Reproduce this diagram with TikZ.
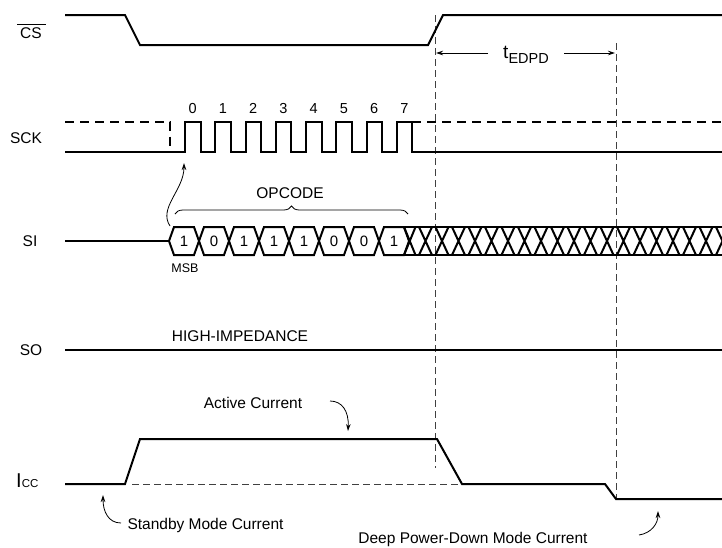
\documentclass[tikz,border=0pt]{standalone}
\usepackage{fontspec}
\setmainfont{Liberation Sans}
\usetikzlibrary{arrows.meta,decorations.pathreplacing}

\tikzset{
    sig/.style={black, line width=2pt},
    sigdash/.style={black, line width=2pt, dash pattern=on 9pt off 6pt},
    guide/.style={black!75, line width=0.9pt, dash pattern=on 7pt off 4pt},
    note/.style={-{Stealth[length=7pt,width=4.5pt]}, line width=0.8pt},
    lbl/.style={inner sep=0pt, font=\fontsize{15.5}{18}\selectfont},
    bit/.style={inner sep=0pt, anchor=base, font=\fontsize{15}{17}\selectfont},
    cnt/.style={inner sep=0pt, anchor=base, font=\fontsize{14.5}{16}\selectfont}
}

\begin{document}
\begin{tikzpicture}[x=1pt,y=-1pt]
    \useasboundingbox (0,0) rectangle (722,547);

    % signal names
    \node[lbl] (cs) at (31,33) {CS};
    \draw[line width=0.7pt] ([shift={(-3,-3)}]cs.north west) -- ([shift={(4,-3)}]cs.north east);
    \node[lbl] (sck) at (26,138) {SCK};
    \node[lbl] (si) at (30,241) {SI};
    \node[lbl] (so) at (31,350) {SO};
    \node[inner sep=0pt, anchor=base west] (icc) at (16,487)
        {\fontsize{20}{22}\selectfont I\fontsize{11.5}{13}\selectfont CC};

    % timing guides
    \draw[guide] (435,15) -- (435,468);
    \draw[guide] (616,43) -- (616,499);
    \draw[guide] (132,484) -- (462,484);

    % CS
    \draw[sig] (65,15) -- (125,15) -- (140,45) -- (428,45) -- (443,15) -- (722,15);

    % SCK
    \draw[sigdash] (65,121.5) -- (170,121.5) -- (170,152);
    \draw[sig] (65,152) -- (185,152)
        -- (185,121.5) -- (200.5,121.5) -- (200.5,152) -- (215.25,152)
        -- (215.25,121.5) -- (230.75,121.5) -- (230.75,152) -- (245.5,152)
        -- (245.5,121.5) -- (261,121.5) -- (261,152) -- (275.75,152)
        -- (275.75,121.5) -- (291.25,121.5) -- (291.25,152) -- (306,152)
        -- (306,121.5) -- (321.5,121.5) -- (321.5,152) -- (336.25,152)
        -- (336.25,121.5) -- (351.75,121.5) -- (351.75,152) -- (366.5,152)
        -- (366.5,121.5) -- (382,121.5) -- (382,152) -- (396.75,152)
        -- (396.75,121.5) -- (412.25,121.5) -- (412.25,152) -- (722,152);
    \draw[sigdash] (412.25,121.5) -- (722,121.5);
    \node[cnt] (c0) at (192.75,113) {0};
    \node[cnt] (c1) at (223,113) {1};
    \node[cnt] (c2) at (253.25,113) {2};
    \node[cnt] (c3) at (283.5,113) {3};
    \node[cnt] (c4) at (313.75,113) {4};
    \node[cnt] (c5) at (344,113) {5};
    \node[cnt] (c6) at (374.25,113) {6};
    \node[cnt] (c7) at (404.5,113) {7};

    % SI
    \draw[sig] (65,241) -- (169,241);
    \draw[sig] (169,241) -- (174,227) -- (194,227) -- (199,241) -- (194,255) -- (174,255) -- cycle;
    \draw[sig] (199,241) -- (204,227) -- (224,227) -- (229,241) -- (224,255) -- (204,255) -- cycle;
    \draw[sig] (229,241) -- (234,227) -- (254,227) -- (259,241) -- (254,255) -- (234,255) -- cycle;
    \draw[sig] (259,241) -- (264,227) -- (284,227) -- (289,241) -- (284,255) -- (264,255) -- cycle;
    \draw[sig] (289,241) -- (294,227) -- (314,227) -- (319,241) -- (314,255) -- (294,255) -- cycle;
    \draw[sig] (319,241) -- (324,227) -- (344,227) -- (349,241) -- (344,255) -- (324,255) -- cycle;
    \draw[sig] (349,241) -- (354,227) -- (374,227) -- (379,241) -- (374,255) -- (354,255) -- cycle;
    \draw[sig] (379,241) -- (384,227) -- (404,227) -- (409,241) -- (404,255) -- (384,255) -- cycle;
    \node[bit] (b0) at (184,246.5) {1};
    \node[bit] (b1) at (214,246.5) {0};
    \node[bit] (b2) at (244,246.5) {1};
    \node[bit] (b3) at (274,246.5) {1};
    \node[bit] (b4) at (304,246.5) {1};
    \node[bit] (b5) at (334,246.5) {0};
    \node[bit] (b6) at (364,246.5) {0};
    \node[bit] (b7) at (394,246.5) {1};
    \node[inner sep=0pt, font=\fontsize{12.5}{14}\selectfont] (msb) at (185,268) {MSB};

    % don't care
    \draw[sig] (404,227) -- (722,227) (404,255) -- (722,255);
    \draw[sig] (404,227) -- (415.5,255) (404,255) -- (415.5,227);
    \draw[sig] (419,227) -- (432,255) (419,255) -- (432,227);
    \draw[sig] (435.5,227) -- (448.5,255) (435.5,255) -- (448.5,227);
    \draw[sig] (452,227) -- (465,255) (452,255) -- (465,227);
    \draw[sig] (468.5,227) -- (481.5,255) (468.5,255) -- (481.5,227);
    \draw[sig] (485,227) -- (498,255) (485,255) -- (498,227);
    \draw[sig] (501.5,227) -- (514.5,255) (501.5,255) -- (514.5,227);
    \draw[sig] (518,227) -- (531,255) (518,255) -- (531,227);
    \draw[sig] (534.5,227) -- (547.5,255) (534.5,255) -- (547.5,227);
    \draw[sig] (551,227) -- (564,255) (551,255) -- (564,227);
    \draw[sig] (567.5,227) -- (580.5,255) (567.5,255) -- (580.5,227);
    \draw[sig] (584,227) -- (597,255) (584,255) -- (597,227);
    \draw[sig] (600.5,227) -- (613.5,255) (600.5,255) -- (613.5,227);
    \draw[sig] (617,227) -- (630,255) (617,255) -- (630,227);
    \draw[sig] (633.5,227) -- (646.5,255) (633.5,255) -- (646.5,227);
    \draw[sig] (650,227) -- (663,255) (650,255) -- (663,227);
    \draw[sig] (666.5,227) -- (679.5,255) (666.5,255) -- (679.5,227);
    \draw[sig] (683,227) -- (696,255) (683,255) -- (696,227);
    \draw[sig] (699.5,227) -- (712.5,255) (699.5,255) -- (712.5,227);
    \draw[sig] (716,227) -- (729,255) (716,255) -- (729,227);

    % opcode brace
    \draw[line width=0.8pt, decorate, decoration={brace, amplitude=8pt}] (175,214) -- (408,214);
    \node[lbl] (opcode) at (290,193) {OPCODE};
    \coordinate (edge0) at (184,163);
    \draw[note] (170,226) .. controls (158,208) and (184,190) .. (edge0);

    % SO
    \draw[sig] (65,350) -- (722,350);
    \node[lbl] (hiz) at (240,336) {HIGH-IMPEDANCE};

    % Icc
    \draw[sig] (65,484) -- (125,484) -- (140,439) -- (437,439) -- (462,484) -- (605,484) -- (616,499) -- (722,499);

    % tEDPD
    \node[inner sep=0pt] (tedpd) at (526,55)
        {\fontsize{19}{21}\selectfont t\fontsize{14.5}{16}\selectfont\raisebox{-4.5pt}{EDPD}};
    \coordinate (g1) at (436,53);
    \coordinate (g2) at (615,53);
    \draw[note] (488,53) -- (g1);
    \draw[note] (564,53) -- (g2);

    % current notes
    \node[lbl] (active) at (253,403) {Active Current};
    \coordinate (activetip) at (348,431);
    \draw[note] (330,401) .. controls (342,401) and (349,411) .. (activetip);
    \node[lbl] (standby) at (205.5,525) {Standby Mode Current};
    \coordinate (standbytip) at (103,495);
    \draw[note] (121,523) .. controls (108,523) and (103,511) .. (standbytip);
    \node[lbl] (deep) at (473,539) {Deep Power-Down Mode Current};
    \coordinate (deeptip) at (658,511);
    \draw[note] (639,535) .. controls (652,533) and (658,523) .. (deeptip);
\end{tikzpicture}
\end{document}
